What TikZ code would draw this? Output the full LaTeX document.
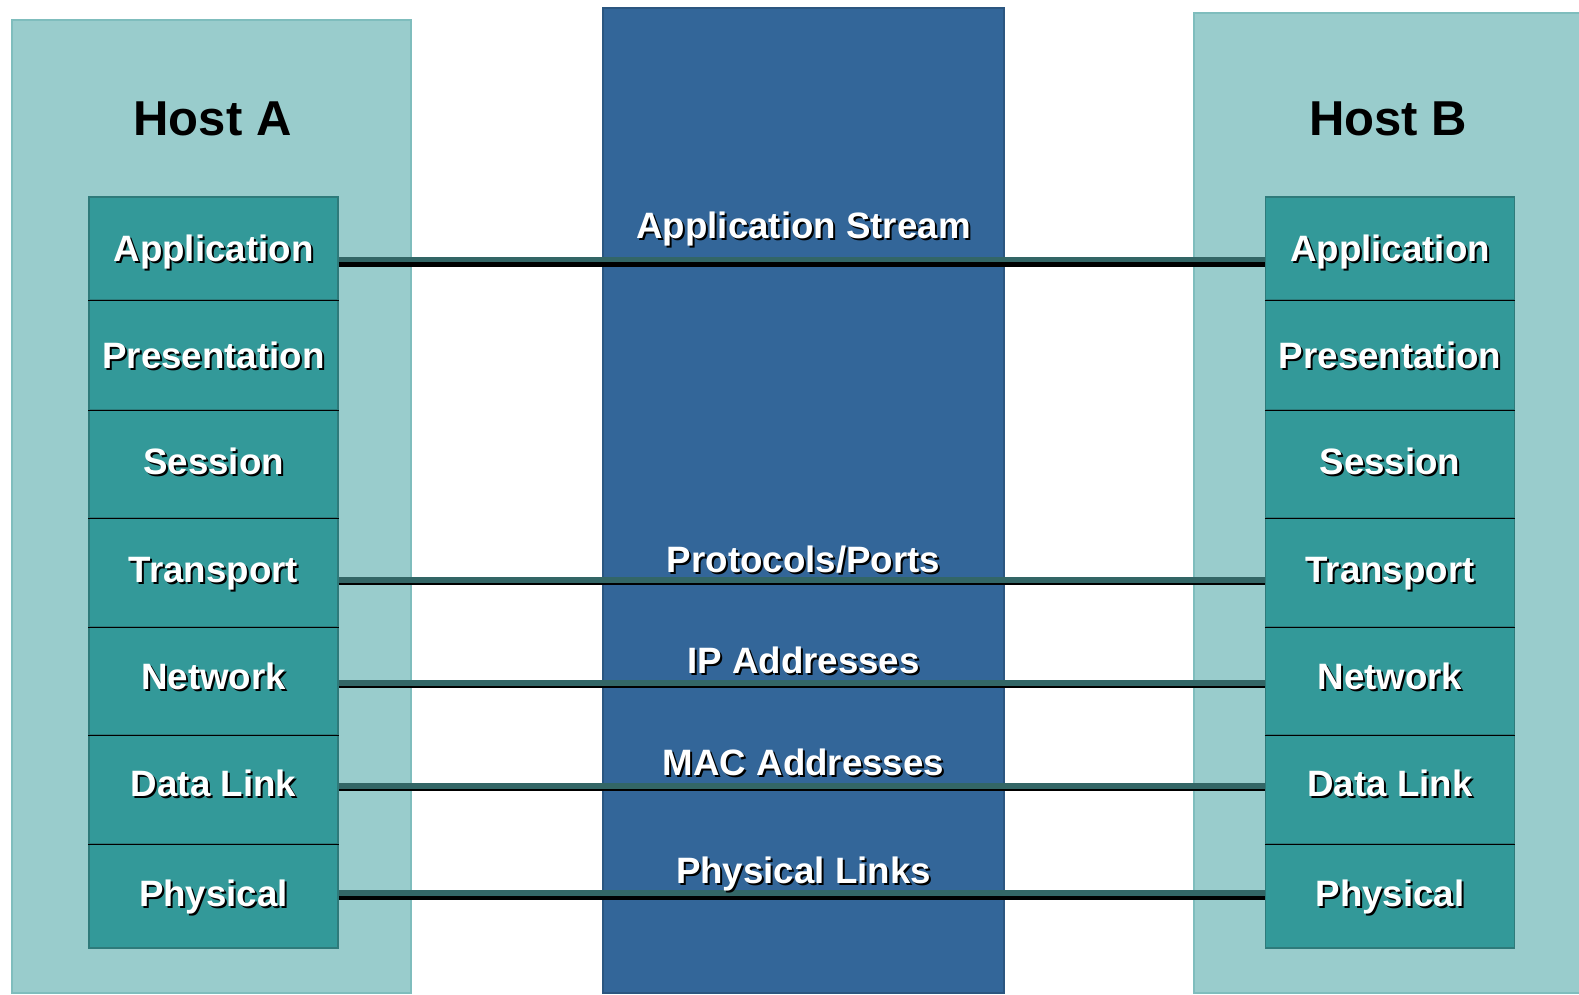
\documentclass[tikz,border=0pt]{standalone}
\usepackage{fontspec}
\setmainfont{Liberation Sans}

\definecolor{panelteal}{HTML}{99CCCC}
\definecolor{paneledge}{HTML}{7FBDBD}
\definecolor{layerteal}{HTML}{339999}
\definecolor{layeredge}{HTML}{2E7A7A}
\definecolor{streamblue}{HTML}{336699}
\definecolor{streamedge}{HTML}{2B5680}
\definecolor{linkteal}{HTML}{336666}

% white text with a black drop shadow
\newcommand\shtext[1]{\rlap{\kern2pt\raisebox{-2pt}[\height][\depth]{\color{black}#1}}{\color{white}#1}}

\begin{document}
\begin{tikzpicture}[x=1pt,y=-1pt,
    panel/.style={fill=panelteal,draw=paneledge,line width=1.5pt},
    streambox/.style={fill=streamblue,draw=streamedge,line width=1.5pt},
    layerbox/.style={draw=layeredge,fill=layerteal,line width=1.5pt,minimum width=249pt,inner sep=0pt},
    layertext/.style={inner sep=0pt,text height=26pt,text depth=0pt,font=\fontsize{36.7}{40}\selectfont\bfseries},
    hostlabel/.style={text height=35pt,text depth=0pt,inner sep=0pt,font=\fontsize{49}{54}\selectfont\bfseries},
    linklabel/.style={anchor=base,inner sep=0pt,font=\fontsize{36.7}{40}\selectfont\bfseries},
    divider/.style={draw=black,line width=1.4pt}]
    \useasboundingbox (0,0) rectangle (1579,995);
    \fill[white] (0,0) rectangle (1579,995);
    \draw[panel] (12,20) rectangle (411,993);
    \draw[panel] (1194,13) rectangle (1585,993);
    \draw[streambox] (603,8) rectangle (1004,993);
    \node[hostlabel] (hostA) at (212.5,118) {Host A};
    \node[hostlabel] (hostB) at (1388,118) {Host B};
    \foreach \nm/\lbl/\ya/\yb/\dy in {App/Application/197/300/0,Pre/Presentation/300/410/0,Ses/Session/410/518/3,
        Tra/Transport/518/627/3,Net/Network/627/735/5,Dat/Data Link/735/844/6,Phy/Physical/844/948/3}{
        \pgfmathsetmacro\hh{\yb-\ya}
        \node[layerbox,minimum height=\hh pt] (a\nm) at (213.5,{(\ya+\yb)/2}) {};
        \node[layerbox,minimum height=\hh pt] (b\nm) at (1390,{(\ya+\yb)/2}) {};
        \node[layertext] (ta\nm) at ([yshift=\dy pt]a\nm.center) {\shtext{\lbl}};
        \node[layertext] (tb\nm) at ([yshift=\dy pt]b\nm.center) {\shtext{\lbl}};
    }
    \foreach \nm in {App,Pre,Ses,Tra,Net,Dat}{
        \draw[divider] (a\nm.south west) -- (a\nm.south east);
        \draw[divider] (b\nm.south west) -- (b\nm.south east);
    }
    \foreach \nm/\st/\tw/\sb/\bw in {App/-11/5/-16/5,Tra/-7.5/6/-11.5/2,Net/-2/6/-6/2,Dat/3.5/6/-0.25/1.5,Phy/3/6/-2/4}{
        \draw[linkteal,line width=\tw pt] ([yshift=\st pt]a\nm.east) -- ([yshift=\st pt]b\nm.west);
        \draw[black,line width=\bw pt] ([yshift=\sb pt]a\nm.east) -- ([yshift=\sb pt]b\nm.west);
    }
    \node[linklabel] (lblApp) at (803.5,238) {\shtext{Application Stream}};
    \node[linklabel] (lblTra) at (803.5,572) {\shtext{Protocols/Ports}};
    \node[linklabel] (lblNet) at (803.5,673) {\shtext{IP Addresses}};
    \node[linklabel] (lblDat) at (803.5,775) {\shtext{MAC Addresses}};
    \node[linklabel] (lblPhy) at (803.5,883) {\shtext{Physical Links}};
\end{tikzpicture}
\end{document}
